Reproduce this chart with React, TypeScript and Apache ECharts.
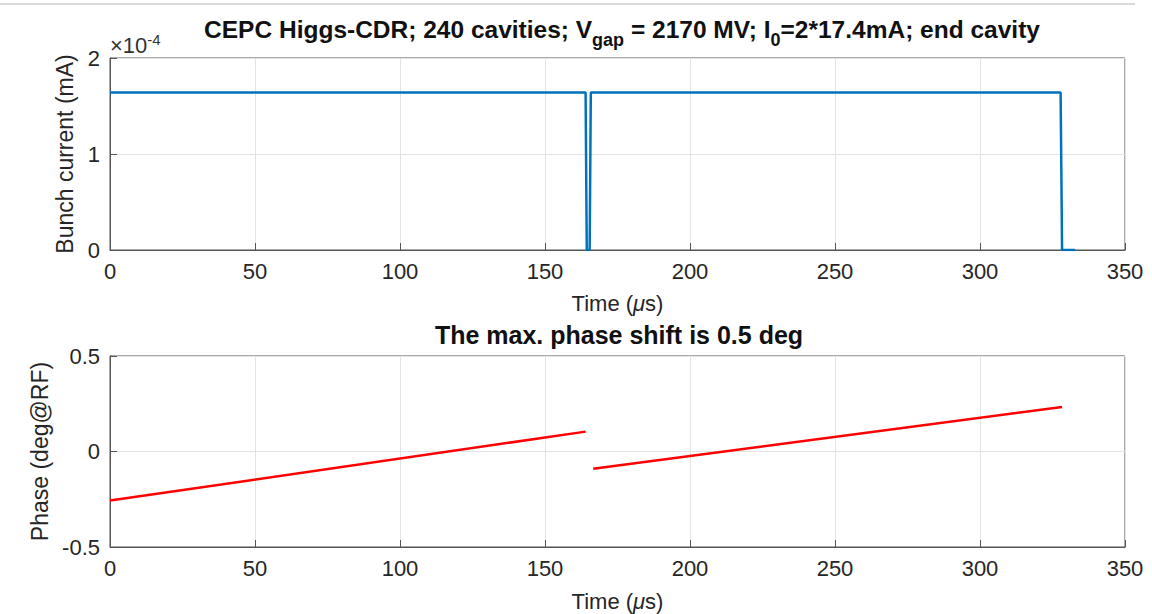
import React, { useEffect, useRef } from "react";
import * as echarts from "echarts";

// Bunch current (mA) vs time (µs)
const currentTime = [0, 164, 164.4, 165.4, 165.8, 327.8, 328.3, 332.8];
const currentValue = [1.64e-4, 1.64e-4, 0, 0, 1.64e-4, 1.64e-4, 0, 0];
// Phase (deg@RF) vs time (µs), two bunch trains
const phaseTime1 = [0, 164];
const phaseValue1 = [-0.257, 0.104];
const phaseTime2 = [166.6, 328.3];
const phaseValue2 = [-0.09, 0.233];

const FONT = "Liberation Sans, Arial, Helvetica, sans-serif";

export default function App() {
  const ref = useRef<HTMLDivElement>(null);
  useEffect(() => {
    if (!ref.current) return;
    const chart = echarts.init(ref.current, undefined, { renderer: "svg" });
    const axisCommon = {
      axisLine: { show: true, onZero: false, lineStyle: { color: "#555", width: 1 } },
      axisTick: { show: true, inside: true, length: 7, lineStyle: { color: "#555" } },
      splitLine: { show: true, lineStyle: { color: "#e3e3e3", width: 1 } },
      axisLabel: { color: "#262626", fontSize: 22, fontFamily: FONT },
    };
    const xAxisBase = (gridIndex: number, nameGap: number) => ({
      ...axisCommon,
      type: "value",
      gridIndex,
      min: 0,
      max: 350,
      interval: 50,
      axisLabel: { ...axisCommon.axisLabel, margin: 10 },
      name: "{n|Time (}{m|μ}{n|s)}",
      nameLocation: "middle",
      nameGap,
      nameTextStyle: {
        rich: {
          n: { fontSize: 22, fontFamily: FONT, color: "#262626" },
          m: { fontSize: 22, fontFamily: FONT, color: "#262626", fontStyle: "italic" },
        },
      },
    });
    const option: any = {
      animation: false,
      backgroundColor: "#fff",
      title: [
        {
          text:
            "{b|CEPC Higgs-CDR; 240 cavities; V}{s|gap}{b| = 2170 MV; I}{s|0}{b|=2*17.4mA; end cavity}",
          left: 617,
          textAlign: "center",
          top: 5,
          textStyle: {
            rich: {
              b: { fontSize: 24.5, fontWeight: "bold", fontFamily: FONT, color: "#111" },
              s: {
                fontSize: 18,
                fontWeight: "bold",
                fontFamily: FONT,
                color: "#111",
                padding: [21, 0, 0, 0],
              },
            },
          },
        },
        {
          text: "The max. phase shift is 0.5 deg",
          left: 614,
          textAlign: "center",
          top: 317,
          textStyle: { fontSize: 25, fontWeight: "bold", fontFamily: FONT, color: "#111" },
        },
      ],
      graphic: [
        {
          type: "line",
          shape: { x1: 0, y1: 4, x2: 1135, y2: 4 },
          style: { stroke: "#ccc", lineWidth: 1.5 },
        },
        {
          type: "text",
          left: 110,
          top: 32,
          style: {
            text: "{a|×10}{e|-4}",
            rich: {
              a: { fontSize: 22, fontFamily: FONT, fill: "#333" },
              e: { fontSize: 15, fontFamily: FONT, fill: "#333", padding: [0, 0, 12, 0] },
            },
          },
        },
      ],
      grid: [
        { left: 110, top: 58, width: 1015, height: 192, show: true, borderColor: "#555", borderWidth: 1 },
        { left: 110, top: 356, width: 1015, height: 191, show: true, borderColor: "#555", borderWidth: 1 },
      ],
      xAxis: [xAxisBase(0, 42), xAxisBase(1, 43)],
      yAxis: [
        {
          ...axisCommon,
          type: "value",
          gridIndex: 0,
          min: 0,
          max: 2e-4,
          interval: 1e-4,
          axisLabel: {
            ...axisCommon.axisLabel,
            margin: 10,
            formatter: (v: number) => String(Math.round(v * 1e4)),
          },
          name: "Bunch current (mA)",
          nameLocation: "middle",
          nameGap: 27,
          nameTextStyle: { fontSize: 23, fontFamily: FONT, color: "#262626" },
        },
        {
          ...axisCommon,
          type: "value",
          gridIndex: 1,
          min: -0.5,
          max: 0.5,
          interval: 0.5,
          axisLabel: {
            ...axisCommon.axisLabel,
            margin: 10,
            formatter: (v: number) => (v === 0 ? "0" : String(v)),
          },
          name: "Phase (deg@RF)",
          nameLocation: "middle",
          nameGap: 53,
          nameTextStyle: { fontSize: 23, fontFamily: FONT, color: "#262626" },
        },
      ],
      series: [
        {
          type: "line",
          xAxisIndex: 0,
          yAxisIndex: 0,
          data: currentTime.map((t, i) => [t, currentValue[i]]),
          showSymbol: false,
          lineStyle: { color: "#0072BD", width: 2.5 },
        },
        {
          type: "line",
          xAxisIndex: 1,
          yAxisIndex: 1,
          data: phaseTime1.map((t, i) => [t, phaseValue1[i]]),
          showSymbol: false,
          lineStyle: { color: "#ff0000", width: 2.5 },
        },
        {
          type: "line",
          xAxisIndex: 1,
          yAxisIndex: 1,
          data: phaseTime2.map((t, i) => [t, phaseValue2[i]]),
          showSymbol: false,
          lineStyle: { color: "#ff0000", width: 2.5 },
        },
      ],
    };
    chart.setOption(option);
    return () => chart.dispose();
  }, []);
  return (
    <div
      ref={ref}
      style={{ position: "absolute", left: 0, top: 0, width: 1152, height: 614 }}
    />
  );
}
